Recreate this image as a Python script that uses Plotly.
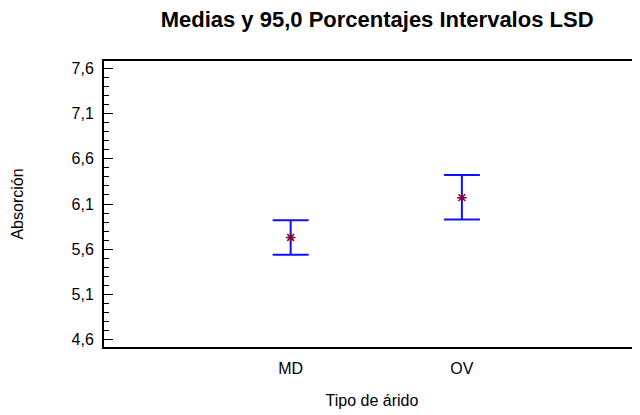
import plotly.graph_objects as go

# --- Data ---
categories = ["MD", "OV"]
means = [5.73, 6.17]
lower = [5.54, 5.93]
upper = [5.92, 6.42]

y_ticks = [4.6, 5.1, 5.6, 6.1, 6.6, 7.1, 7.6]
Y_RANGE = [4.52, 7.68]

FONT = "Liberation Sans, Arial, sans-serif"

err_plus = [u - m for u, m in zip(upper, means)]
err_minus = [m - l for m, l in zip(means, lower)]

fig = go.Figure()

fig.add_trace(go.Scatter(
    x=categories, y=means, mode="markers",
    marker=dict(symbol="asterisk-open", size=8, color="#800045",
                line=dict(color="#800045", width=1.5)),
    error_y=dict(type="data", array=err_plus, arrayminus=err_minus,
                 color="#1010ff", thickness=2, width=18),
    showlegend=False,
))

# invisible trace to carry the small tick marks on the right edge
fig.add_trace(go.Scatter(x=categories, y=means, yaxis="y2", mode="markers",
                         marker=dict(opacity=0), showlegend=False, hoverinfo="skip"))

# page body has an 8px margin, so the figure is a bit smaller than the window
fig.update_layout(
    width=632, height=407,
    margin=dict(l=96, r=0, t=53, b=68, autoexpand=False),
    paper_bgcolor="white", plot_bgcolor="white",
    separators=",.",
    font=dict(family=FONT, size=16, color="black"),
    title=dict(text="<b>Medias y 95,0 Porcentajes Intervalos LSD</b>",
               xref="container", x=0.584, xanchor="center",
               yref="container", y=0.973, yanchor="middle",
               font=dict(family=FONT, size=22, color="black")),
    xaxis=dict(
        type="category", range=[-1.09, 2.04], automargin=False,
        showline=True, linecolor="black", linewidth=2, mirror=True,
        ticks="", showgrid=False, zeroline=False,
        ticklabelstandoff=6,
        tickfont=dict(size=16),
        title=dict(text="Tipo de árido", font=dict(size=16), standoff=19),
    ),
    yaxis=dict(
        range=Y_RANGE, tickvals=y_ticks, tickformat=".1f", automargin=False,
        showline=True, linecolor="black", linewidth=2,
        ticks="inside", ticklen=9, tickwidth=1, tickcolor="black",
        minor=dict(dtick=0.1, tick0=4.6, ticks="inside", ticklen=5, tickcolor="black"),
        showgrid=False, zeroline=False,
        ticklabelstandoff=5,
        tickfont=dict(size=16),
        title=dict(text="Absorción", font=dict(size=16), standoff=44),
    ),
    yaxis2=dict(
        overlaying="y", side="right", range=Y_RANGE, tickvals=y_ticks,
        automargin=False,
        ticks="inside", ticklen=3, tickcolor="black", showticklabels=False,
        showline=False, showgrid=False, zeroline=False,
    ),
)

fig.write_html("out.html")
